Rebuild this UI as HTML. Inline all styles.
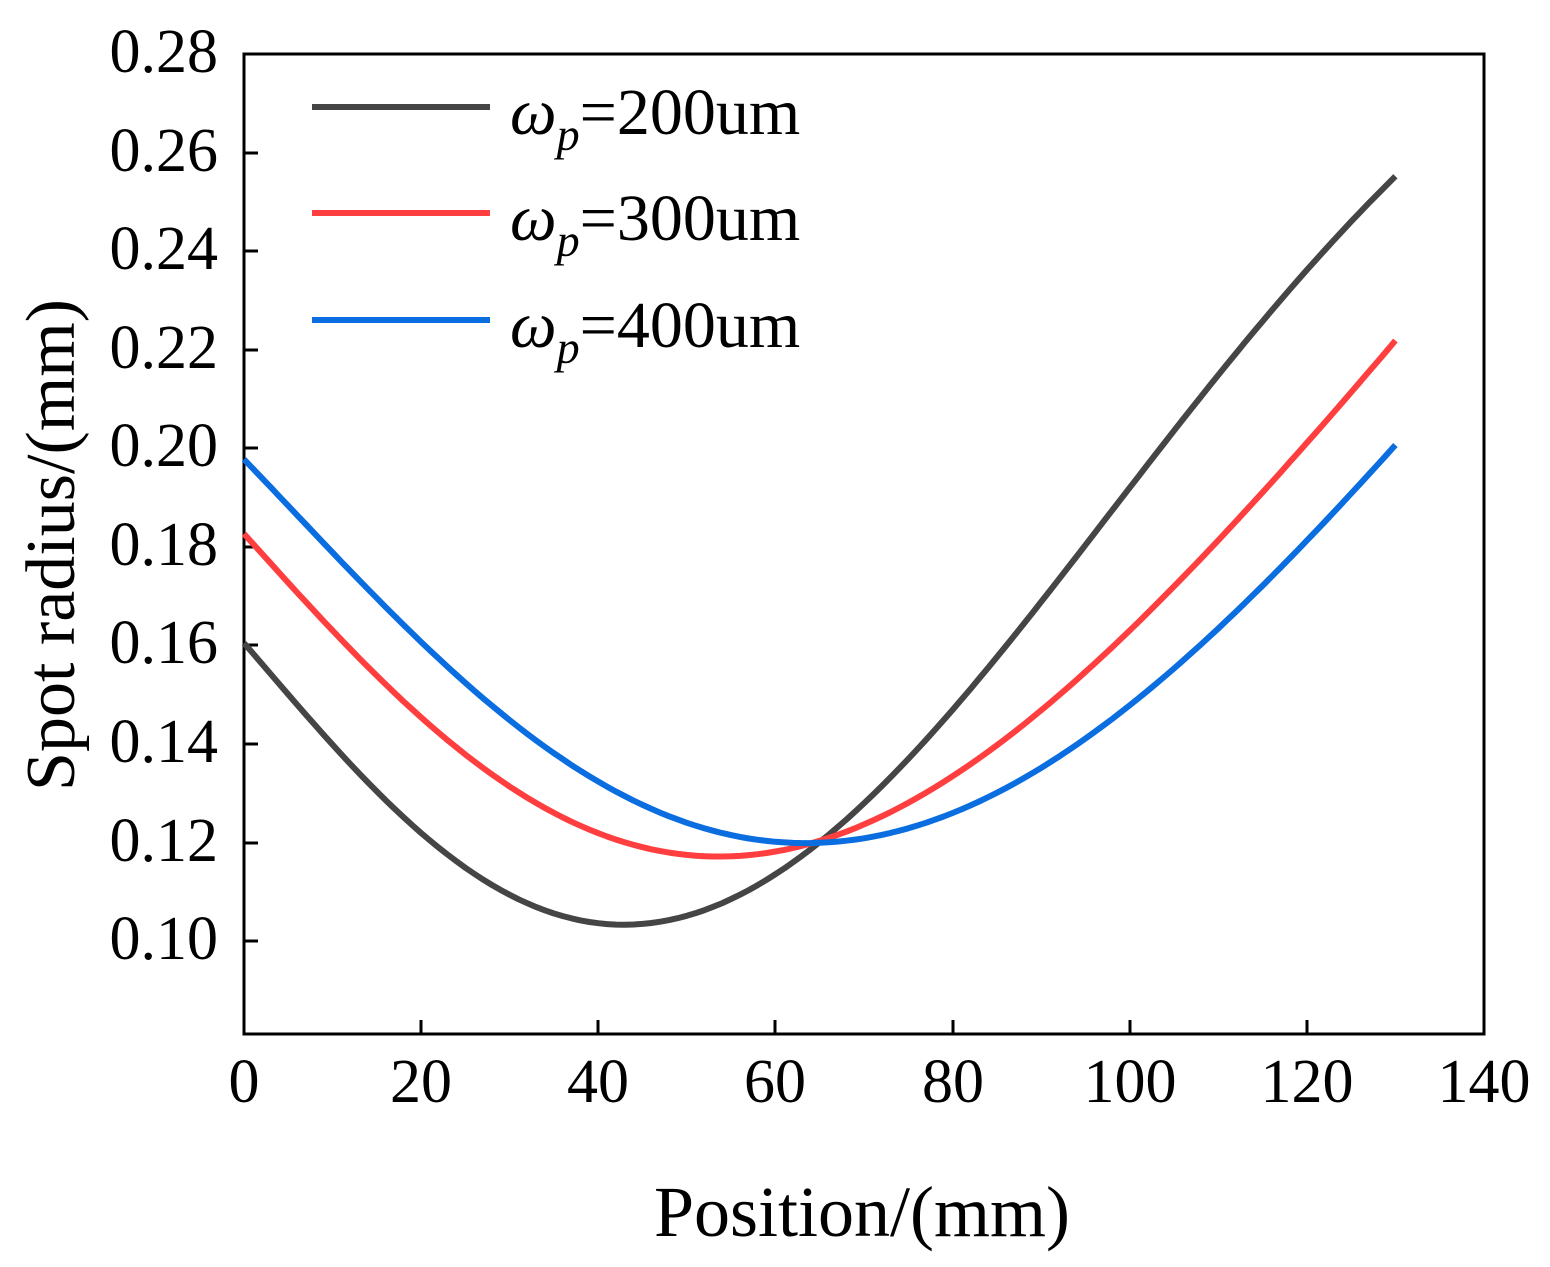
<!DOCTYPE html>
<html><head><meta charset="utf-8"><style>
html,body{margin:0;padding:0;background:#fff}
svg{display:block}
text{font-family:"Liberation Serif",serif;fill:#000}
</style></head><body>
<svg id="s" width="1550" height="1267" viewBox="0 0 1550 1267" xmlns="http://www.w3.org/2000/svg">
<rect x="244" y="54" width="1240" height="980" fill="none" stroke="#000" stroke-width="3"/>
<g stroke="#000" stroke-width="3">
<line x1="421" y1="1034" x2="421" y2="1020"/><line x1="598" y1="1034" x2="598" y2="1020"/>
<line x1="775" y1="1034" x2="775" y2="1020"/><line x1="953" y1="1034" x2="953" y2="1020"/>
<line x1="1130" y1="1034" x2="1130" y2="1020"/><line x1="1307" y1="1034" x2="1307" y2="1020"/>
<line x1="244" y1="153" x2="258" y2="153"/><line x1="244" y1="251" x2="258" y2="251"/>
<line x1="244" y1="350" x2="258" y2="350"/><line x1="244" y1="448" x2="258" y2="448"/>
<line x1="244" y1="547" x2="258" y2="547"/><line x1="244" y1="645" x2="258" y2="645"/>
<line x1="244" y1="744" x2="258" y2="744"/><line x1="244" y1="843" x2="258" y2="843"/>
<line x1="244" y1="941" x2="258" y2="941"/>
</g>
<g font-size="62" text-anchor="end">
<text x="218" y="72">0.28</text><text x="218" y="171">0.26</text><text x="218" y="269">0.24</text>
<text x="218" y="368">0.22</text><text x="218" y="466">0.20</text><text x="218" y="565">0.18</text>
<text x="218" y="663">0.16</text><text x="218" y="762">0.14</text><text x="218" y="861">0.12</text>
<text x="218" y="959">0.10</text>
</g>
<g font-size="62" text-anchor="middle">
<text x="244" y="1102">0</text><text x="421" y="1102">20</text><text x="598" y="1102">40</text>
<text x="775" y="1102">60</text><text x="953" y="1102">80</text><text x="1130" y="1102">100</text>
<text x="1307" y="1102">120</text><text x="1484" y="1102">140</text>
</g>
<text x="862" y="1236" font-size="72" text-anchor="middle">Position/(mm)</text>
<text transform="translate(74,545) rotate(-90)" font-size="70" text-anchor="middle">Spot radius/(mm)</text>
<g stroke-width="6" fill="none" stroke-linejoin="round">
<path id="p1" stroke="#454545"/><path id="p2" stroke="#ff3f3f"/><path id="p3" stroke="#0a6de0"/>
<line x1="312" y1="107" x2="490" y2="107" stroke="#454545"/>
<line x1="312" y1="213" x2="490" y2="213" stroke="#ff3f3f"/>
<line x1="312" y1="320" x2="490" y2="320" stroke="#0a6de0"/>
</g>
<g font-size="66">
<text x="510" y="134"><tspan font-style="italic">ω</tspan><tspan font-style="italic" font-size="46" dy="16">p</tspan><tspan dy="-16">=200um</tspan></text>
<text x="510" y="240"><tspan font-style="italic">ω</tspan><tspan font-style="italic" font-size="46" dy="16">p</tspan><tspan dy="-16">=300um</tspan></text>
<text x="510" y="347"><tspan font-style="italic">ω</tspan><tspan font-style="italic" font-size="46" dy="16">p</tspan><tspan dy="-16">=400um</tspan></text>
</g>
</svg>
<script>
function X(z){return 244+z*8.857;}
function Y(v){return 941-(v-0.10)*4928;}
function fit(P,deg){
  var n=deg+1,A=[],b=[];
  for(var i=0;i<n;i++){A.push(new Array(n).fill(0));b.push(0);}
  P.forEach(function(p){var t=p[0]/130;var pw=[];for(var k=0;k<2*n;k++)pw.push(Math.pow(t,k));
    for(var i=0;i<n;i++){b[i]+=pw[i]*p[1];for(var j=0;j<n;j++)A[i][j]+=pw[i+j];}});
  for(var i=0;i<n;i++){var piv=i;for(var r=i+1;r<n;r++)if(Math.abs(A[r][i])>Math.abs(A[piv][i]))piv=r;
    var tmp=A[i];A[i]=A[piv];A[piv]=tmp;var tb=b[i];b[i]=b[piv];b[piv]=tb;
    for(var r=0;r<n;r++){if(r==i)continue;var f=A[r][i]/A[i][i];for(var c=i;c<n;c++)A[r][c]-=f*A[i][c];b[r]-=f*b[i];}}
  return b.map(function(v,i){return v/A[i][i];});
}
function mk(id,P,deg){
  var c=fit(P,deg),s="";
  for(var z=0;z<=130;z+=1){var t=z/130,v=0;for(var k=c.length-1;k>=0;k--)v=v*t+c[k];
    s+=(z?"L":"M")+X(z).toFixed(1)+" "+Y(v).toFixed(1);}
  document.getElementById(id).setAttribute("d",s);
}
mk("p1",[[0,0.161],[5.6,0.1483],[11.3,0.1367],[16.9,0.1266],[22.6,0.1185],[28.2,0.1118],[33.9,0.1069],[39.5,0.1039],[44,0.1028],[50.8,0.1049],[56.5,0.1095],[64.7,0.1205],[80,0.146],[100,0.1935],[108,0.2098],[120,0.2355],[130,0.2555]],5);
mk("p2",[[0,0.1824],[5.6,0.1718],[11.3,0.161],[16.9,0.1503],[22.6,0.1408],[28.2,0.1333],[33.9,0.1272],[39.5,0.1225],[45.2,0.1191],[50.8,0.1175],[54.5,0.1172],[60,0.1179],[64.7,0.1205],[74.1,0.1266],[85.4,0.1402],[96.7,0.1576],[108,0.1779],[120,0.2006],[130,0.222]],5);
mk("p3",[[0,0.197],[5.6,0.1881],[11.3,0.1767],[16.9,0.1666],[22.6,0.1556],[28.2,0.1469],[33.9,0.1394],[39.5,0.1327],[45.2,0.1272],[50.8,0.1235],[56.5,0.1215],[61,0.1207],[66.5,0.1202],[74.1,0.1225],[85.4,0.13],[96.7,0.1422],[108,0.1611],[120,0.1813],[130,0.2005]],5);
</script>
</body></html>
